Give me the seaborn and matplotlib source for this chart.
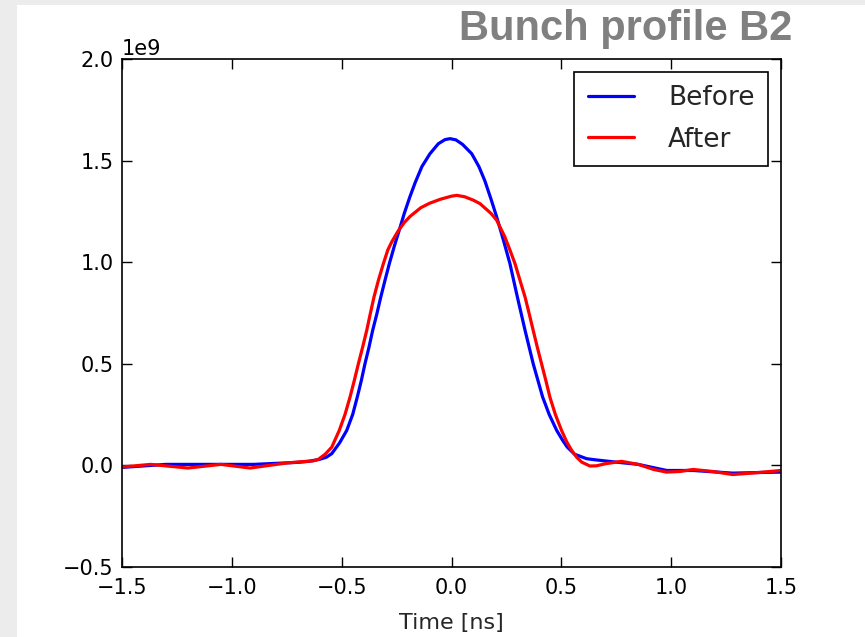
import numpy as np
import pandas as pd
import seaborn as sns
import matplotlib.pyplot as plt
from matplotlib.patches import Rectangle

sns.set_style("ticks")
plt.rcParams["font.family"] = ["DejaVu Sans"]

DPI = 100
FIGSIZE = (8.65, 6.37)

# bunch profile readings (time in ns, value in units of 1e9)
before_t = [-1.5, -1.3, -1.1, -0.9, -0.8, -0.7, -0.65, -0.6, -0.57, -0.545, -0.51,
            -0.477, -0.45, -0.429, -0.41, -0.394, -0.376, -0.359, -0.34, -0.322,
            -0.303, -0.283, -0.26, -0.238, -0.215, -0.19, -0.166, -0.135, -0.098,
            -0.06, -0.03, -0.007, 0.02, 0.05, 0.092, 0.125, 0.152, 0.18, 0.205,
            0.236, 0.266, 0.30, 0.335, 0.372, 0.415, 0.445, 0.479, 0.505, 0.527,
            0.56, 0.615, 0.65, 0.75, 0.85, 0.98, 1.1, 1.28, 1.4, 1.5]
before_v = [-0.01, 0.005, 0.005, 0.005, 0.01, 0.015, 0.02, 0.03, 0.04, 0.058, 0.11,
            0.172, 0.25, 0.336, 0.42, 0.50, 0.58, 0.664, 0.745, 0.828,
            0.91, 0.993, 1.08, 1.157, 1.24, 1.32, 1.39, 1.47, 1.534,
            1.583, 1.603, 1.608, 1.602, 1.58, 1.534, 1.47, 1.40, 1.31, 1.225,
            1.11, 0.993, 0.828, 0.664, 0.50, 0.336, 0.25, 0.172, 0.125, 0.09,
            0.055, 0.033, 0.028, 0.016, 0.005, -0.025, -0.025, -0.038, -0.035, -0.033]

after_t = [-1.5, -1.37, -1.2, -1.05, -0.917, -0.75, -0.66, -0.63, -0.606, -0.575,
           -0.545, -0.511, -0.485, -0.462, -0.442, -0.424, -0.405, -0.386, -0.37,
           -0.353, -0.333, -0.311, -0.29, -0.272, -0.257, -0.242, -0.215, -0.189,
           -0.14, -0.1, -0.05, 0.0, 0.024, 0.06, 0.1, 0.13, 0.18, 0.206, 0.243,
           0.266, 0.289, 0.312, 0.335, 0.354, 0.372, 0.391, 0.41, 0.429, 0.448,
           0.473, 0.501, 0.525, 0.547, 0.57, 0.593, 0.63, 0.66, 0.7, 0.774, 0.85,
           0.92, 0.979, 1.04, 1.1, 1.19, 1.28, 1.4, 1.5]
after_v = [-0.008, 0.005, -0.013, 0.005, -0.013, 0.012, 0.02, 0.022, 0.03, 0.055,
           0.09, 0.172, 0.25, 0.336, 0.42, 0.50, 0.58, 0.664, 0.745,
           0.828, 0.91, 0.99, 1.06, 1.10, 1.128, 1.155, 1.195, 1.225,
           1.268, 1.29, 1.31, 1.325, 1.329, 1.322, 1.305, 1.288, 1.24, 1.206, 1.124,
           1.06, 0.993, 0.91, 0.828, 0.745, 0.664, 0.58, 0.50, 0.42, 0.336,
           0.25, 0.172, 0.115, 0.074, 0.04, 0.016, -0.003, -0.002, 0.008, 0.02, 0.005,
           -0.02, -0.033, -0.03, -0.02, -0.03, -0.045, -0.035, -0.025]

before = pd.DataFrame({"t": before_t, "v": np.array(before_v) * 1e9})
after = pd.DataFrame({"t": after_t, "v": np.array(after_v) * 1e9})

fig = plt.figure(figsize=FIGSIZE, dpi=DPI, facecolor="#ececec")
fig.add_artist(Rectangle((17 / 865, 0), 1, 1 - 5 / 637, transform=fig.transFigure,
                         facecolor="white", edgecolor="none", zorder=-10))
ax = fig.add_axes([122 / 865, 1 - 567 / 637, 659 / 865, 508 / 637])

sns.lineplot(x="t", y="v", data=before, color="#0000ff", linewidth=2.3,
             label="Before", ax=ax, sort=False)
sns.lineplot(x="t", y="v", data=after, color="#ff0000", linewidth=2.3,
             label="After", ax=ax, sort=False)

ax.set_xlim(-1.5, 1.5)
ax.set_ylim(-0.5e9, 2.0e9)
ax.set_xticks(np.arange(-1.5, 1.51, 0.5))
ax.set_yticks(np.arange(-0.5e9, 2.01e9, 0.5e9))
ax.set_xlabel("Time [ns]", fontsize=16, labelpad=11)
ax.set_ylabel("")
ax.tick_params(direction="in", top=True, right=True, length=7, width=1,
               labelsize=15, colors="black")
ax.tick_params(axis="x", pad=8)
ax.tick_params(axis="y", pad=6)
ax.yaxis.get_offset_text().set_fontsize(15)
for s in ax.spines.values():
    s.set_color("black")
    s.set_linewidth(1.2)

leg = ax.legend(loc="upper right", fontsize=19, frameon=True, fancybox=False,
                handlelength=1.75, handletextpad=1.3, borderpad=0.5,
                borderaxespad=0.5, labelspacing=0.58)
leg.get_frame().set_edgecolor("black")
leg.get_frame().set_linewidth(1.2)
leg.get_frame().set_alpha(1)

fig.text(792 / 865, 1 - 29 / 637, "Bunch profile B2", fontsize=30, fontweight="bold",
         color="#808080", ha="right", va="center", family="Liberation Sans")

fig.savefig("out.png", dpi=DPI, facecolor=fig.get_facecolor())
